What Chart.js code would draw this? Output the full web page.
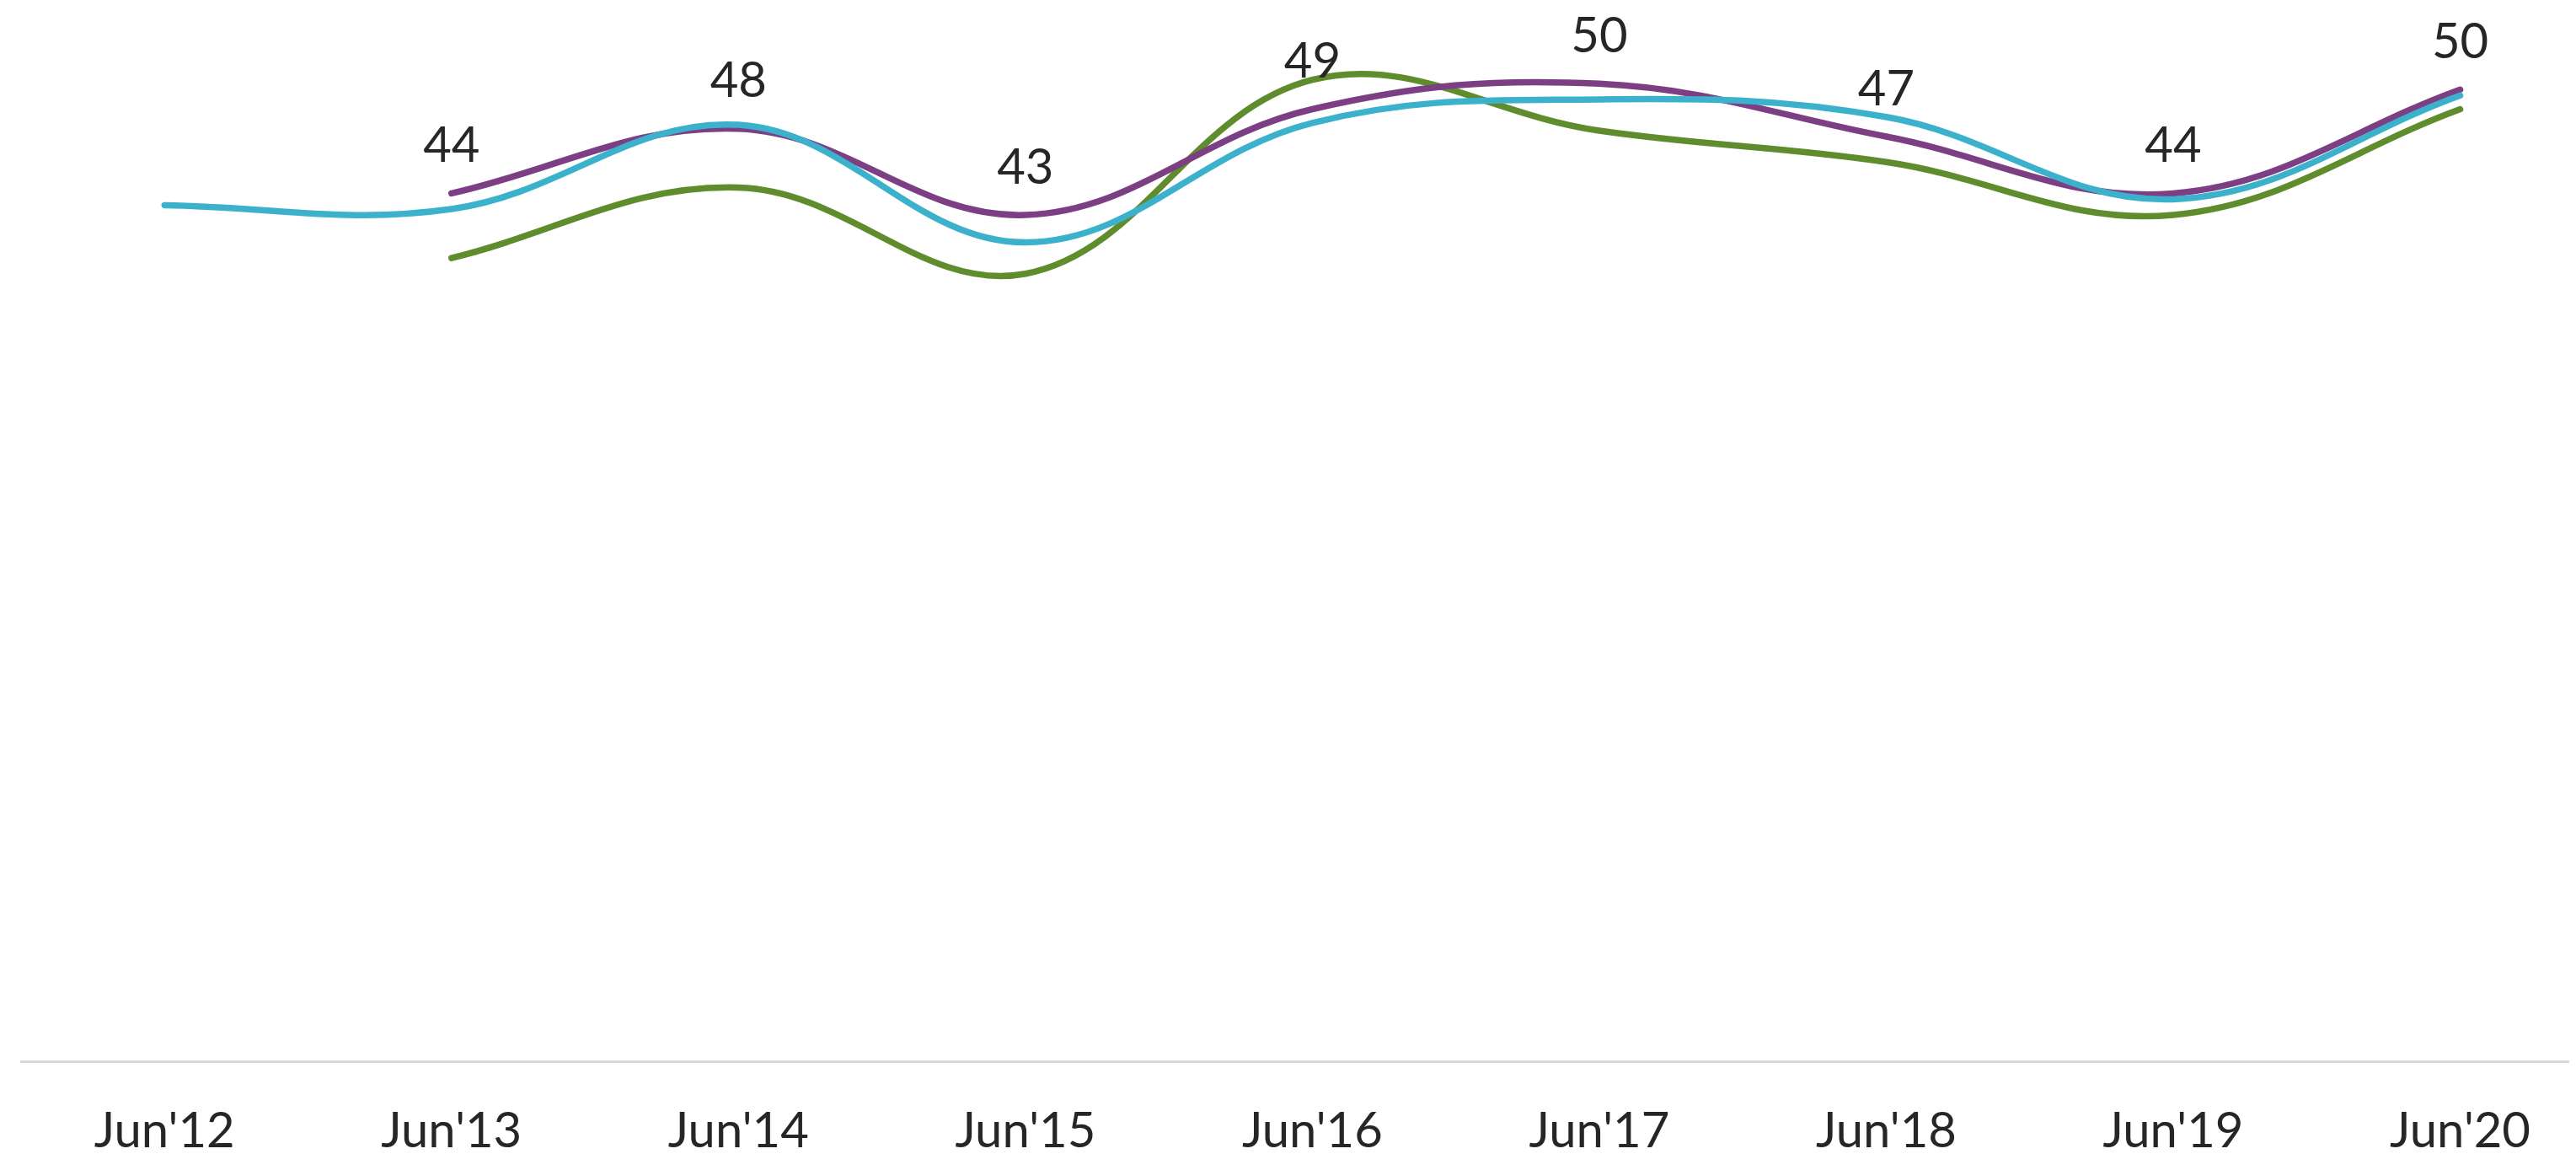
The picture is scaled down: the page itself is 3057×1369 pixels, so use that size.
<!DOCTYPE html>
<html lang="en">

<head>
    <meta charset="UTF-8">
    <title>Chart</title>
    <script src="https://cdn.jsdelivr.net/npm/chart.js@4.4.1/dist/chart.umd.min.js"></script>
    <style>
        html, body { margin: 0; padding: 0; background: #fff; }
        #wrap { width: 3057px; height: 1369px; }
    </style>
</head>

<body>
    <div id="wrap"><canvas id="chart"></canvas></div>
    <script>
        var categories = ["Jun'12", "Jun'13", "Jun'14", "Jun'15", "Jun'16", "Jun'17", "Jun'18", "Jun'19", "Jun'20"];
        var cyanValues = [43.7, 43.5, 47.8, 41.8, 47.9, 49.1, 48.2, 44.0, 49.3];
        var purpleValues = [null, 44.3, 47.6, 43.2, 48.6, 49.9, 47.2, 44.3, 49.6];
        var greenValues = [null, 41.0, 44.6, 40.2, 50.1, 47.5, 45.9, 43.2, 48.6];

        function toPoints(vals) {
            var pts = [];
            vals.forEach(function (v, i) {
                if (v !== null) pts.push({ x: i, y: v });
            });
            return pts;
        }

        // labels above the purple line
        const valueLabels = {
            id: 'valueLabels',
            afterDatasetsDraw(chart) {
                const ctx = chart.ctx;
                const meta = chart.getDatasetMeta(1);
                ctx.save();
                ctx.font = '58px Lato, Carlito, sans-serif';
                ctx.fillStyle = '#262626';
                ctx.textAlign = 'center';
                ctx.textBaseline = 'middle';
                meta.data.forEach(function (pt, i) {
                    const v = meta._parsed[i].y;
                    ctx.fillText(Math.round(v), pt.x, pt.y - 56);
                });
                ctx.restore();
            }
        };

        const ctx = document.getElementById('chart').getContext('2d');
        const myChart = new Chart(ctx, {
            type: 'line',
            data: {
                datasets: [{
                    label: 'cyan',
                    data: toPoints(cyanValues),
                    borderColor: '#3cb1cb',
                    borderWidth: 7.5,
                    borderCapStyle: 'round',
                    tension: 0.38,
                    radius: 0,
                    fill: false
                }, {
                    label: 'purple',
                    data: toPoints(purpleValues),
                    borderColor: '#7d3f84',
                    borderWidth: 7.5,
                    borderCapStyle: 'round',
                    tension: 0.38,
                    radius: 0,
                    fill: false
                }, {
                    label: 'green',
                    data: toPoints(greenValues),
                    borderColor: '#5f8c2c',
                    borderWidth: 7.5,
                    borderCapStyle: 'round',
                    tension: 0.38,
                    radius: 0,
                    fill: false
                }]
            },
            options: {
                responsive: true,
                maintainAspectRatio: false,
                animation: false,
                layout: { padding: { left: 25, right: 0, top: 4, bottom: 0 } },
                plugins: {
                    legend: { display: false },
                    tooltip: { enabled: false }
                },
                scales: {
                    x: {
                        type: 'linear',
                        min: -0.5,
                        max: 8.38,
                        afterBuildTicks: function (s) {
                            s.ticks = categories.map(function (c, i) { return { value: i }; });
                        },
                        afterFit: function (s) {
                            s.height = 110;
                        },
                        grid: { display: false, drawTicks: false },
                        border: { display: true, color: '#d9d9d9', width: 3 },
                        ticks: {
                            padding: 54,
                            maxRotation: 0,
                            autoSkip: false,
                            color: '#262626',
                            font: { family: 'Lato, Carlito, sans-serif', size: 58, lineHeight: 1 },
                            callback: function (v) { return categories[v]; }
                        }
                    },
                    y: {
                        display: false,
                        min: 0,
                        max: 54
                    }
                }
            },
            plugins: [valueLabels]
        });
    </script>
</body>

</html>
